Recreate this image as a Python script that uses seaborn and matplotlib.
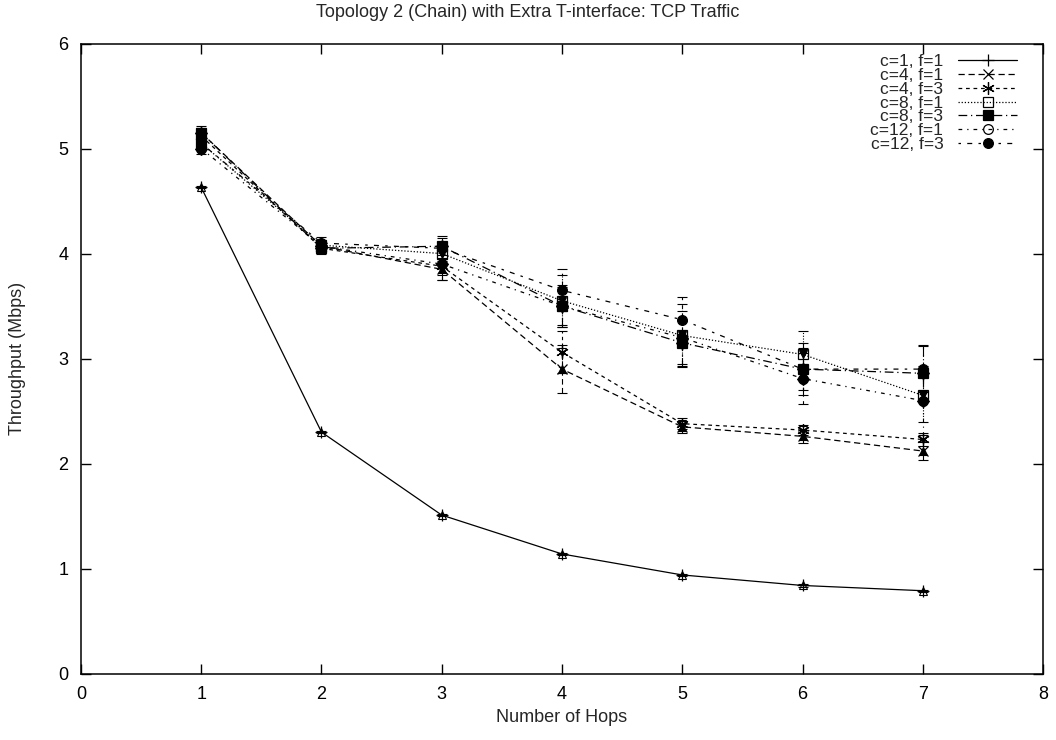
import numpy as np
import pandas as pd
import matplotlib
matplotlib.use("Agg")
import matplotlib.pyplot as plt
import seaborn as sns

# Data
hops = [1, 2, 3, 4, 5, 6, 7]
labels = ["c=1, f=1", "c=4, f=1", "c=4, f=3", "c=8, f=1", "c=8, f=3", "c=12, f=1", "c=12, f=3"]

c1_f1 = [4.63, 2.30, 1.51, 1.14, 0.94, 0.84, 0.79]
c4_f1 = [5.15, 4.07, 3.85, 2.90, 2.35, 2.26, 2.12]
c4_f3 = [5.12, 4.05, 3.88, 3.06, 2.38, 2.32, 2.23]
c8_f1 = [5.05, 4.08, 4.00, 3.55, 3.22, 3.04, 2.65]
c8_f3 = [5.15, 4.05, 4.07, 3.50, 3.15, 2.90, 2.86]
c12_f1 = [5.00, 4.07, 3.90, 3.50, 3.20, 2.81, 2.60]
c12_f3 = [5.05, 4.10, 4.05, 3.65, 3.37, 2.90, 2.90]

c1_f1_err = [0.01, 0.01, 0.01, 0.01, 0.01, 0.01, 0.01]
c4_f1_err = [0.05, 0.04, 0.10, 0.23, 0.06, 0.06, 0.09]
c4_f3_err = [0.05, 0.04, 0.08, 0.20, 0.05, 0.05, 0.06]
c8_f1_err = [0.06, 0.05, 0.10, 0.25, 0.30, 0.22, 0.25]
c8_f3_err = [0.06, 0.05, 0.08, 0.18, 0.22, 0.25, 0.27]
c12_f1_err = [0.05, 0.05, 0.15, 0.20, 0.25, 0.24, 0.33]
c12_f3_err = [0.06, 0.06, 0.12, 0.20, 0.22, 0.20, 0.22]

series = [c1_f1, c4_f1, c4_f3, c8_f1, c8_f3, c12_f1, c12_f3]
errors = [c1_f1_err, c4_f1_err, c4_f3_err, c8_f1_err, c8_f3_err, c12_f1_err, c12_f3_err]

# gnuplot-like styles
dash_styles = ["-", (0, (5, 3)), (0, (3, 3)), (0, (1, 1.5)), (0, (7, 3, 1, 3)),
               (0, (3, 4, 1, 4)), (0, (2, 5, 4, 5))]
line_markers = ["+", "x", (6, 2, 0), "s", "s", "o", "o"]
marker_sizes = [8, 7, 9, 7, 7, 7, 7]
line_filled = [False, False, False, False, True, False, True]
err_markers = ["^", "^", "v", "v", "D", "D", "p"]
err_filled = [False, True, False, True, False, True, False]

sns.set_style("ticks")
plt.rcParams["font.family"] = ["Liberation Sans", "DejaVu Sans"]
fs = 13

fig, ax = plt.subplots(figsize=(10.56, 7.4), dpi=100)
fig.subplots_adjust(left=0.0767, right=0.9877, top=0.9412, bottom=0.0896)

for lab, vals, err, ls, mk, ms, filled, emk, efill in zip(
        labels, series, errors, dash_styles, line_markers, marker_sizes,
        line_filled, err_markers, err_filled):
    df = pd.DataFrame({"hops": hops, "thr": vals})
    sns.lineplot(data=df, x="hops", y="thr", ax=ax, color="black", linewidth=0.9,
                 linestyle=ls, marker=mk, markersize=ms,
                 markerfacecolor="black" if filled else "none",
                 markeredgecolor="black", markeredgewidth=0.9, label=lab)
    eb = ax.errorbar(hops, vals, yerr=err, fmt=emk, color="black", markersize=6,
                     markerfacecolor="black" if efill else "none",
                     markeredgewidth=0.8, elinewidth=0.8, capsize=3.5, capthick=0.8)
    for col in eb[2]:
        col.set_linestyle(ls)

ax.set_xlim(0, 8)
ax.set_ylim(0, 6)
ax.set_xticks(range(0, 9))
ax.set_yticks(range(0, 7))
ax.tick_params(direction="in", length=7, width=1, top=True, right=True, pad=9,
               labelsize=fs, colors="black")
for sp in ax.spines.values():
    sp.set_linewidth(1.1)
    sp.set_visible(True)
    sp.set_color("black")

ax.set_xlabel("Number of Hops", fontsize=fs)
ax.set_ylabel("Throughput (Mbps)", fontsize=fs)
ax.xaxis.set_label_coords(0.5, -0.056)
ax.yaxis.set_label_coords(-0.057, 0.5)
fig.suptitle("Topology 2 (Chain) with Extra T-interface: TCP Traffic", x=0.5, y=0.995,
             va="top", fontsize=fs)

# markerfirst=False right-aligns the labels, as gnuplot does
leg = ax.legend(loc="upper right", bbox_to_anchor=(0.973, 0.983), frameon=False,
                markerfirst=False, handlelength=3.4, handletextpad=0.85,
                labelspacing=-0.08, borderaxespad=0, borderpad=0, fontsize=12.5)

fig.savefig("out.png", dpi=100)
